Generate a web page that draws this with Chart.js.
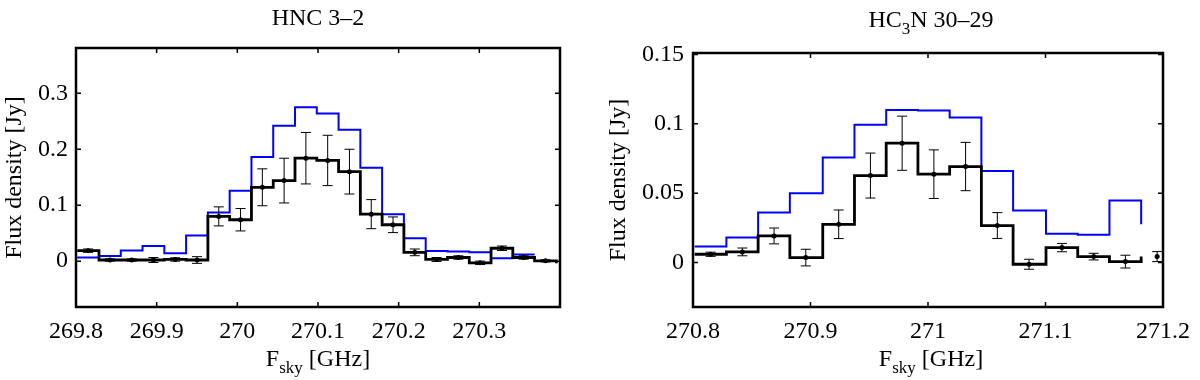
<!DOCTYPE html>
<html>
<head>
<meta charset="utf-8">
<script src="https://cdn.jsdelivr.net/npm/chart.js@4.4.1/dist/chart.umd.min.js"></script>
<style>
body { margin: 0; background: #fff; }
#wrap { position: relative; width: 1200px; height: 380px; font-family: "Liberation Serif", serif; color: #000; }
.panel { position: absolute; top: 0; width: 600px; height: 380px; }
.lbl { position: absolute; width: 400px; text-align: center; font-size: 24px; line-height: 24px; white-space: nowrap; }
.sub { font-size: 17px; position: relative; top: 7px; }
</style>
</head>
<body>
<div id="wrap">
  <div class="panel" style="left:0"><canvas id="hnc" width="600" height="380"></canvas></div>
  <div class="panel" style="left:600px"><canvas id="hc3n" width="600" height="380"></canvas></div>
  <div class="lbl" style="left:118px;top:5px">HNC 3–2</div>
  <div class="lbl" style="left:731px;top:7px">HC<span class="sub">3</span>N 30–29</div>
  <div class="lbl" style="left:118px;top:346px">F<span class="sub">sky</span> [GHz]</div>
  <div class="lbl" style="left:731px;top:346px">F<span class="sub">sky</span> [GHz]</div>
</div>
<script>
// HNC 3-2 channels (GHz, centres), observed flux, 1-sigma errors, model
var hncFreq = [269.815, 269.842, 269.869, 269.896, 269.923, 269.950, 269.977, 270.004,
               270.031, 270.058, 270.085, 270.112, 270.139, 270.166, 270.193, 270.220,
               270.247, 270.274, 270.301, 270.328, 270.355, 270.382, 270.409];
var hncObs = [0.0187, 0.002, 0.002, 0.002, 0.003, 0.002, 0.080, 0.074, 0.132, 0.144,
              0.184, 0.180, 0.160, 0.084, 0.065, 0.0157, 0.003, 0.0065, -0.003, 0.023,
              0.0065, 0.0005, -0.004];
var hncErr = [0.003, 0.002, 0.002, 0.0045, 0.003, 0.006, 0.017, 0.02, 0.033, 0.04,
              0.046, 0.045, 0.04, 0.026, 0.014, 0.006, 0.0035, 0.003, 0.003, 0.004,
              0.003, 0.002, 0.003];
var hncModel = [0.0066, 0.009, 0.019, 0.027, 0.014, 0.046, 0.087, 0.126, 0.186, 0.242,
                0.275, 0.264, 0.235, 0.167, 0.084, 0.041, 0.018, 0.017, 0.016, 0.005,
                0.012, 0.012];
var hncChan = 0.027;
var hncXTicks = [269.8, 269.9, 270, 270.1, 270.2, 270.3];
var hncYTicks = [0, 0.1, 0.2, 0.3];

// HC3N 30-29
var hc3nFreq = [270.815, 270.842, 270.869, 270.896, 270.924, 270.951, 270.978, 271.005,
                271.032, 271.059, 271.086, 271.114, 271.141, 271.168, 271.195];
var hc3nObs = [0.006, 0.0077, 0.0192, 0.0036, 0.0276, 0.0627, 0.086, 0.0637, 0.0692,
               0.0267, -0.0012, 0.0108, 0.0043, 0.0007, 0.0043];
var hc3nErr = [0.0015, 0.0028, 0.0057, 0.006, 0.0103, 0.0162, 0.0195, 0.0175, 0.0174,
               0.0093, 0.0036, 0.003, 0.0024, 0.0046, 0.0036];
var hc3nModel = [0.0115, 0.018, 0.036, 0.050, 0.0757, 0.0993, 0.110, 0.1096, 0.1046,
                 0.066, 0.0375, 0.0207, 0.020, 0.0447, 0.0276];
var hc3nChan = 0.02715;
var hc3nXTicks = [270.8, 270.9, 271, 271.1, 271.2];
var hc3nYTicks = [0, 0.05, 0.1, 0.15];

var serif = 'Liberation Serif';
Chart.defaults.font.family = serif;
Chart.defaults.color = '#000';

// error bars drawn from dataset.errors through the chart scales
var errorBarPlugin = {
    id: 'errorBars',
    afterDatasetsDraw: function(chart) {
        var ctx = chart.ctx, a = chart.chartArea;
        var xs = chart.scales.x, ys = chart.scales.y;
        ctx.save();
        ctx.beginPath();
        ctx.rect(a.left, a.top, a.right - a.left, a.bottom - a.top);
        ctx.clip();
        ctx.strokeStyle = '#000';
        ctx.lineWidth = 1;
        chart.data.datasets.forEach(function(ds) {
            if (!ds.errors) return;
            ds.data.forEach(function(p, i) {
                var px = xs.getPixelForValue(p.x);
                var hi = ys.getPixelForValue(p.y + ds.errors[i]);
                var lo = ys.getPixelForValue(p.y - ds.errors[i]);
                ctx.beginPath();
                ctx.moveTo(px, hi); ctx.lineTo(px, lo);
                ctx.moveTo(px - 5, hi); ctx.lineTo(px + 5, hi);
                ctx.moveTo(px - 5, lo); ctx.lineTo(px + 5, lo);
                ctx.stroke();
            });
        });
        ctx.restore();
    }
};

// matlab style box with inward ticks
var framePlugin = {
    id: 'frame',
    afterDraw: function(chart) {
        var ctx = chart.ctx, a = chart.chartArea;
        var xs = chart.scales.x, ys = chart.scales.y;
        ctx.save();
        ctx.strokeStyle = '#000';
        ctx.lineWidth = 1.5;
        ctx.beginPath();
        xs.ticks.forEach(function(t) {
            var px = xs.getPixelForValue(t.value);
            ctx.moveTo(px, a.bottom); ctx.lineTo(px, a.bottom - 5);
            ctx.moveTo(px, a.top); ctx.lineTo(px, a.top + 5);
        });
        ys.ticks.forEach(function(t) {
            var py = ys.getPixelForValue(t.value);
            ctx.moveTo(a.left, py); ctx.lineTo(a.left + 5, py);
            ctx.moveTo(a.right, py); ctx.lineTo(a.right - 5, py);
        });
        ctx.stroke();
        ctx.lineWidth = 2.5;
        ctx.strokeRect(a.left, a.top, a.right - a.left, a.bottom - a.top);
        ctx.restore();
    }
};

var stairs = function(freq, vals, chan) {
    return vals.map(function(v, i) { return { x: freq[i] - chan / 2, y: v }; });
};
var points = function(freq, vals) {
    return vals.map(function(v, i) { return { x: freq[i], y: v }; });
};

var makeChart = function(id, opt) {
    new Chart(document.getElementById(id), {
        type: 'line',
        data: {
            datasets: [
                {
                    data: points(opt.freq, opt.obs),
                    errors: opt.err,
                    showLine: false,
                    pointRadius: 2.5,
                    pointBackgroundColor: '#000',
                    pointBorderWidth: 0,
                    clip: 0
                },
                {
                    data: stairs(opt.freq, opt.obs, opt.chan),
                    stepped: true,
                    borderColor: '#000',
                    borderWidth: 2.8,
                    pointRadius: 0
                },
                {
                    data: stairs(opt.freq, opt.model, opt.chan),
                    stepped: true,
                    borderColor: '#0000ff',
                    borderWidth: 2,
                    pointRadius: 0
                }
            ]
        },
        options: {
            responsive: false,
            animation: false,
            layout: { padding: { top: opt.top, right: opt.right, bottom: 0, left: 0 } },
            plugins: { legend: { display: false }, tooltip: { enabled: false } },
            scales: {
                x: {
                    type: 'linear',
                    min: opt.xmin,
                    max: opt.xmax,
                    grid: { display: false, drawTicks: false },
                    border: { display: false },
                    ticks: { font: { family: serif, size: 24 }, padding: 10, maxRotation: 0,
                             callback: function(v) { return String(v); } },
                    afterBuildTicks: function(s) { s.ticks = opt.xticks.map(function(v) { return { value: v }; }); },
                    afterFit: function(s) { s.height = 73; }
                },
                y: {
                    min: opt.ymin,
                    max: opt.ymax,
                    grid: { display: false, drawTicks: false },
                    border: { display: false },
                    ticks: { font: { family: serif, size: 24 }, padding: opt.ypad,
                             callback: function(v) { return String(v); } },
                    title: { display: true, text: 'Flux density [Jy]', font: { family: serif, size: 24 },
                             padding: { top: opt.tpad, bottom: 0 } },
                    afterBuildTicks: function(s) { s.ticks = opt.yticks.map(function(v) { return { value: v }; }); },
                    afterFit: function(s) { s.width = opt.yw; }
                }
            }
        },
        plugins: [errorBarPlugin, framePlugin]
    });
};

makeChart('hnc', {
    freq: hncFreq, obs: hncObs, err: hncErr, model: hncModel, chan: hncChan,
    xticks: hncXTicks, yticks: hncYTicks,
    xmin: 269.8, xmax: 270.4, ymin: -0.082, ymax: 0.381,
    top: 48, right: 40, yw: 76, ypad: 8, tpad: 0
});
makeChart('hc3n', {
    freq: hc3nFreq, obs: hc3nObs, err: hc3nErr, model: hc3nModel, chan: hc3nChan,
    xticks: hc3nXTicks, yticks: hc3nYTicks,
    xmin: 270.8, xmax: 271.2, ymin: -0.032, ymax: 0.151,
    top: 53, right: 30, yw: 93, ypad: 9, tpad: 4
});
</script>
</body>
</html>
